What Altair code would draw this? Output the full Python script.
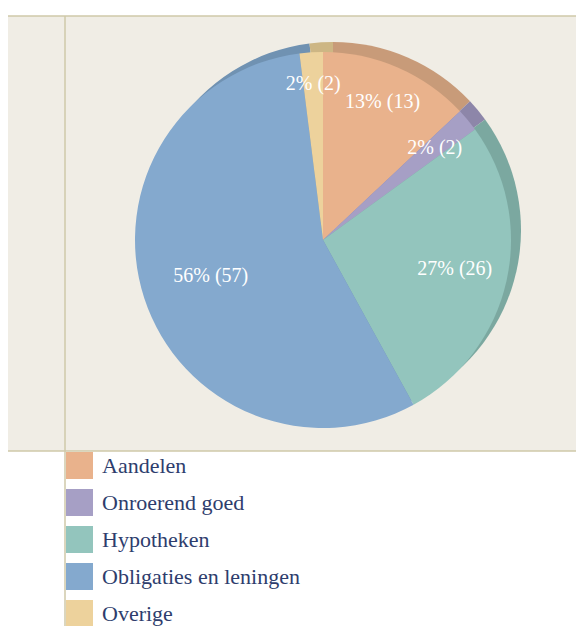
import altair as alt
import pandas as pd

# ---- data ----
categories = ["Aandelen", "Onroerend goed", "Hypotheken", "Obligaties en leningen", "Overige"]
percentages = [13, 2, 27, 56, 2]
amounts = [13, 2, 26, 57, 2]

# ---- style ----
colors = ["#E9B28C", "#A69FC5", "#93C5BD", "#84A9CE", "#EDD29C"]
shadow_colors = ["#C89B79", "#8D86A9", "#7BA8A0", "#7092B2", "#CDB684"]
label_radius = [150, 145, 135, 118, 156]

CX, CY, R = 315, 232, 188
SHIFT_X, SHIFT_Y = 10, -10
W, H = 568, 618
BEIGE = "#F0EDE5"
LINE = "#CFC9A8"
SERIF = "Liberation Serif"

df = pd.DataFrame({
    "cat": categories,
    "pct": percentages,
    "amt": amounts,
    "idx": list(range(len(categories))),
    "lr": label_radius,
})
df["label"] = [f"{p}% ({a})" for p, a in zip(percentages, amounts)]
df["shadow"] = ["s_" + c for c in categories]

dummy = alt.Data(values=[{}])
theta_scale = alt.Scale(domain=[0, 100])

bg = alt.Chart(dummy).mark_rect(color=BEIGE).encode(
    x=alt.value(0), x2=alt.value(W), y=alt.value(8), y2=alt.value(443)
)
top_line = alt.Chart(dummy).mark_rule(color=LINE, strokeWidth=1.5).encode(
    x=alt.value(0), x2=alt.value(W), y=alt.value(8)
)
mid_line = alt.Chart(dummy).mark_rule(color=LINE, strokeWidth=1.5).encode(
    x=alt.value(0), x2=alt.value(W), y=alt.value(443)
)
v_line = alt.Chart(dummy).mark_rule(color=LINE, strokeWidth=1.5).encode(
    x=alt.value(57), y=alt.value(8), y2=alt.value(H)
)

base = alt.Chart(df)

shadow = base.mark_arc(radius=R).encode(
    theta=alt.Theta("pct:Q", stack=True, scale=theta_scale),
    order=alt.Order("idx:Q"),
    fill=alt.Fill("shadow:N", scale=alt.Scale(domain=list(df["shadow"]), range=shadow_colors), legend=None),
    x=alt.value(CX + SHIFT_X),
    y=alt.value(CY + SHIFT_Y),
)

front = base.mark_arc(radius=R).encode(
    theta=alt.Theta("pct:Q", stack=True, scale=theta_scale),
    order=alt.Order("idx:Q"),
    color=alt.Color("cat:N", scale=alt.Scale(domain=categories, range=colors),
                    sort=categories, title=None),
    x=alt.value(CX),
    y=alt.value(CY),
)

labels = base.transform_window(
    cum="sum(pct)", sort=[alt.SortField("idx")], frame=[None, 0]
).transform_calculate(
    mid="datum.cum - datum.pct / 2"
).mark_text(font=SERIF, fontSize=20, color="white").encode(
    theta=alt.Theta("mid:Q", stack=None, scale=theta_scale),
    radius=alt.Radius("lr:Q", scale=None),
    text="label:N",
    x=alt.value(CX),
    y=alt.value(CY),
)

chart = alt.layer(bg, top_line, mid_line, v_line, shadow, front, labels).properties(
    width=W, height=H, autosize=alt.AutoSizeParams(type="none"), padding=0,
    background="white",
).configure_view(stroke=None).configure_legend(
    orient="none", legendX=58, legendY=444, padding=0,
    labelFont=SERIF, labelFontSize=22, labelColor="#2E3D6D",
    symbolType="square", symbolSize=729, symbolStrokeWidth=0,
    rowPadding=10, labelOffset=9, labelLimit=400,
)

chart.save("out.html", embed_options={"renderer": "svg", "actions": False})
